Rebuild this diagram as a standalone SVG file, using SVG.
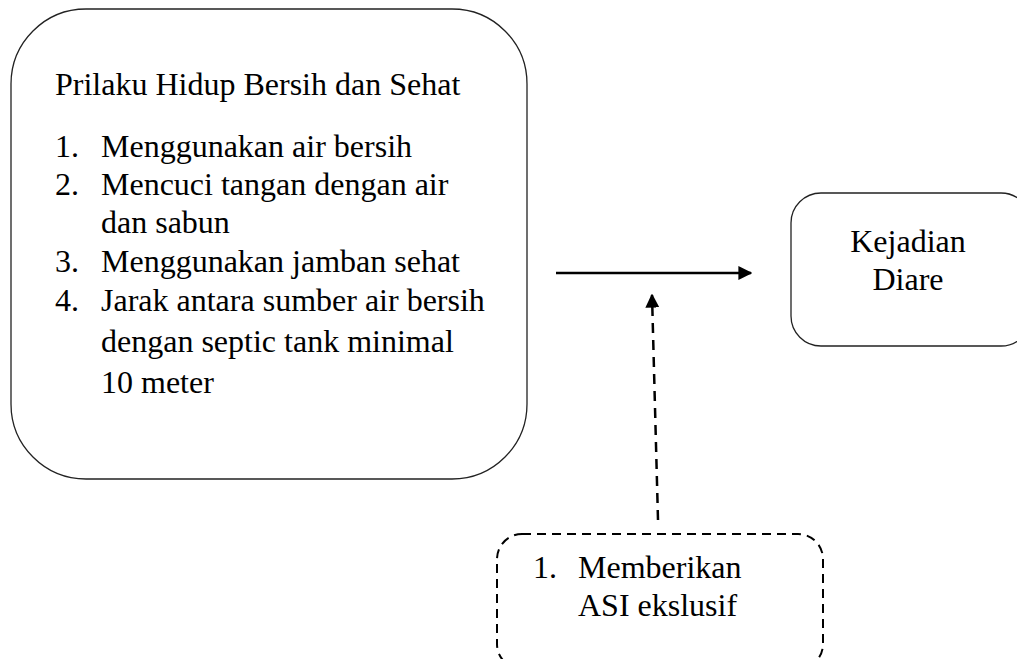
<svg xmlns="http://www.w3.org/2000/svg" width="1017" height="659" viewBox="0 0 1017 659">
<style>
text{font-family:"Liberation Serif","Times New Roman",serif;font-size:32px;fill:#000}
.box{fill:#fff;stroke:#222;stroke-width:1.3}
.dbox{fill:#fff;stroke:#000;stroke-width:2;stroke-dasharray:9 6}
.ln{stroke:#000;stroke-width:2.5;fill:none}
.dl{stroke:#000;stroke-width:2.5;fill:none;stroke-dasharray:10 7}
</style>
<defs>
<marker id="ah" viewBox="0 0 10 10" refX="9" refY="5" markerWidth="14" markerHeight="14" markerUnits="userSpaceOnUse" orient="auto">
<path d="M0,0 L10,5 L0,10 Z" fill="#000"/>
</marker>
</defs>
<rect width="1017" height="659" fill="#fff"/>
<g id="node-phbs">
<rect class="box" x="11" y="9" width="516" height="470" rx="75" ry="75"/>
<text x="55" y="95">Prilaku Hidup Bersih dan Sehat</text>
<text x="55" y="157">1.</text><text x="101" y="157">Menggunakan air bersih</text>
<text x="55" y="195">2.</text><text x="101" y="195">Mencuci tangan dengan air</text>
<text x="101" y="233">dan sabun</text>
<text x="55" y="272">3.</text><text x="101" y="272">Menggunakan jamban sehat</text>
<text x="55" y="311">4.</text><text x="101" y="311">Jarak antara sumber air bersih</text>
<text x="101" y="352">dengan septic tank minimal</text>
<text x="101" y="393">10 meter</text>
</g>
<g id="node-diare">
<rect class="box" x="791" y="193" width="240" height="153" rx="30" ry="30"/>
<text x="908" y="252" text-anchor="middle">Kejadian</text>
<text x="908" y="290" text-anchor="middle">Diare</text>
</g>
<g id="node-asi">
<rect class="dbox" x="497" y="534" width="326" height="135" rx="25" ry="25"/>
<text x="533" y="578">1.</text><text x="578" y="578">Memberikan</text>
<text x="578" y="616">ASI ekslusif</text>
</g>
<g id="connectors">
<line class="ln" x1="556" y1="273" x2="751" y2="273" marker-end="url(#ah)"/>
<line class="dl" x1="658" y1="520" x2="652" y2="295" marker-end="url(#ah)"/>
</g>
</svg>
